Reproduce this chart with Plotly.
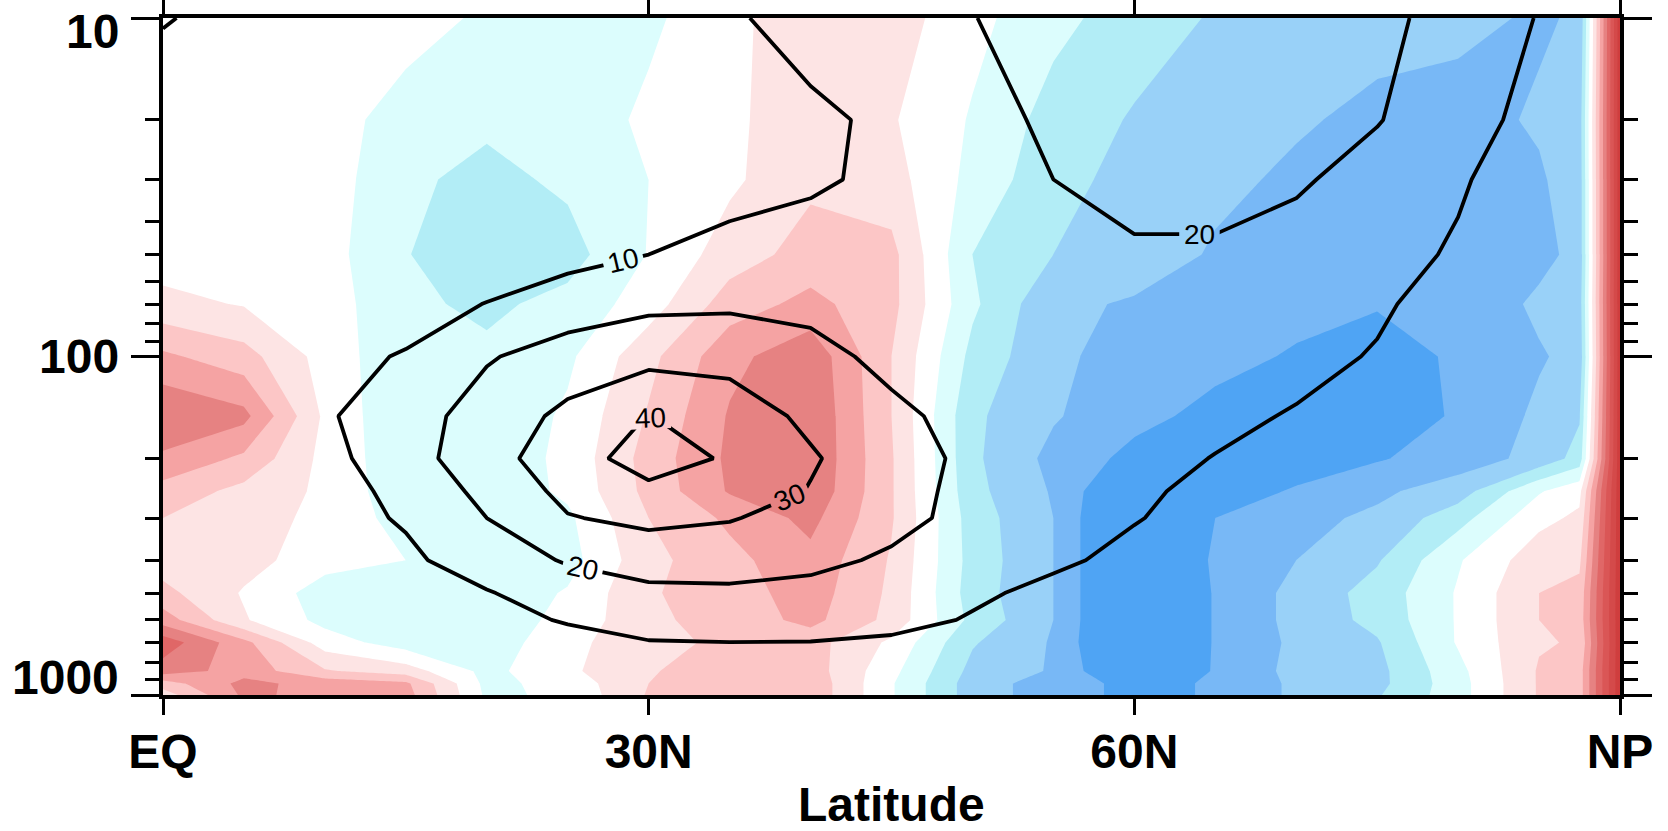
import math
import plotly.graph_objects as go

# ---------------- data ----------------
pressure_levels = [10, 20, 30, 50, 70, 100, 150, 200, 250, 300, 400, 500, 600, 700, 850, 925, 1000]

shade_lats = [0, 5, 10, 15, 20, 25, 30, 35, 40, 45, 50, 55, 60, 65, 70, 75, 80, 85, 87.5, 90]
# shaded anomaly field (rows = pressure_levels)
shade_values = [
    [0, 0, 0, 0, -0.7, -1.1, -0.7, 0.2, 1.2, 1.0, -0.2, -1.2, -2.0, -2.6, -3.0, -3.2, -3.3, -3.6, -3.4, 8.2],   # 10
    [0, 0, 0, -1.0, -1.3, -1.1, -0.3, 0.3, 1.1, 0.6, -0.6, -1.9, -2.6, -3.1, -3.4, -3.7, -3.8, -3.4, -3.0, 8.2],  # 20
    [0, 0, 0, -1.3, -1.8, -1.3, -0.5, 0.3, 1.3, 0.9, -0.8, -2.2, -2.8, -3.3, -3.65, -3.9, -4.0, -3.6, -3.1, 8.2],  # 30
    [0, 0, -0.1, -1.45, -2.2, -1.9, -0.45, 1.0, 1.9, 1.8, -1.5, -2.5, -3.0, -3.6, -3.9, -4.1, -4.2, -3.8, -3.2, 8.2],  # 50
    [0.8, 0.43, 0.0, -1.3, -1.7, -1.2, 0.0, 2.0, 2.8, 1.8, -1.3, -3.3, -3.6, -4.0, -4.2, -4.45, -4.3, -3.3, -3.0, 8.2],  # 70
    [2.7, 1.9, 0.1, -1.3, -1.3, -0.7, 1.2, 3.2, 4.2, 1.5, -1.8, -3.3, -3.9, -4.2, -4.6, -4.8, -4.4, -3.6, -3.2, 8.2],  # 100
    [4.4, 3.8, 0.3, -1.4, -1.3, -0.33, 1.6, 3.6, 4.4, 1.5, -2.3, -3.4, -4.2, -4.8, -5.0, -5.0, -4.4, -3.3, -2.6, 8.2],  # 150
    [3.3, 2.3, 0.2, -1.2, -1.3, -0.2, 1.9, 3.7, 4.4, 1.6, -2.3, -3.8, -4.8, -5.1, -5.0, -4.6, -4.0, -3.2, -2.1, 8.2],  # 200
    [2.1, 1.2, 0.3, -1.2, -1.2, -0.3, 1.8, 3.6, 4.3, 1.6, -2.2, -3.6, -6.0, -5.0, -4.4, -3.7, -3.0, -0.6, 0.2, 8.2],  # 250
    [1.5, 1.0, 0.2, -0.9, -1.2, -0.7, 1.5, 2.7, 3.8, 1.6, -2.0, -3.5, -6.5, -4.5, -3.8, -3.3, -1.9, 0.2, 0.7, 8.2],  # 300
    [1.0, 0.9, -0.1, -0.5, -1.0, -0.9, 1.2, 2.2, 3.2, 1.4, -1.9, -3.5, -6.5, -4.3, -3.5, -2.6, -0.6, 1.1, 1.3, 8.2],  # 400
    [1.8, 0.4, -1.0, -1.2, -1.2, -0.4, 1.4, 2.0, 3.0, 1.3, -2.0, -3.5, -6.5, -4.4, -3.2, -2.1, -0.4, 1.5, 1.8, 8.2],  # 500
    [3.0, 0.6, -0.8, -1.2, -1.1, -0.2, 1.3, 1.9, 2.8, 1.2, -1.8, -3.5, -6.5, -4.4, -3.2, -2.2, -0.4, 1.5, 1.9, 8.2],  # 600
    [5.1, 2.8, 0.0, -1.0, -1.1, 0.2, 1.2, 1.7, 1.9, 0.3, -2.4, -3.6, -6.5, -4.4, -3.3, -2.6, -0.4, 1.4, 1.6, 8.2],  # 700
    [4.0, 3.1, 1.6, 1.0, -0.8, 0.3, 1.4, 2.1, 2.0, -0.2, -2.8, -3.6, -6.0, -4.4, -3.2, -2.8, -0.8, 1.6, 2.0, 8.2],  # 850
    [2.0, 3.8, 3.1, 2.7, -0.8, -0.1, 1.5, 2.3, 2.2, -0.4, -3.0, -4.0, -4.8, -4.4, -3.3, -2.8, -0.9, 1.6, 2.0, 8.2],  # 925
    [1.0, 3.7, 3.2, 2.9, -0.7, -0.3, 1.6, 2.2, 2.2, -0.4, -3.0, -4.0, -4.8, -4.4, -3.3, -2.6, -0.9, 1.6, 2.0, 8.2],  # 1000
]

wind_lats = [0, 5, 10, 15, 20, 25, 30, 35, 40, 45, 50, 55, 60, 65, 70, 75, 80, 85, 90]
# zonal wind climatology (rows = pressure_levels)
wind_values = [
    [10.8, 6, 3, 2, 2, 3, 5, 9, 13, 16, 19.8, 23, 25, 26, 25, 22, 17, 9.5, 2],        # 10
    [3, 3, 2, 2, 2, 3, 5, 7, 8.5, 11.5, 16, 22, 26, 27, 25, 20.4, 15, 6, 1],          # 20
    [2, 2, 2, 2, 3, 4, 5.5, 7.5, 9, 11.5, 15, 20, 24, 24, 21, 17, 11, 5, 1],          # 30
    [3, 3, 3, 4, 5.5, 7.5, 10, 12, 13, 14, 15.5, 17.5, 18.5, 18.5, 17, 13, 9, 4, 1],  # 50
    [4, 4, 5, 7, 10.2, 14, 18, 18.5, 17.5, 16, 15, 15, 15, 14.5, 13.5, 11, 7, 3, 1],  # 70
    [5, 6, 8, 10.5, 19, 25, 27, 27, 23, 17.5, 15, 14, 13.5, 13, 12, 9.5, 6, 3, 1],    # 100
    [5, 7, 9, 15, 25, 32, 40.3, 35, 28, 22, 17, 15, 13, 11.5, 9.5, 7, 5, 3, 1],       # 150
    [5, 6, 7, 16, 26, 36, 44, 39, 31, 24, 18, 15, 12, 9.8, 8, 6, 4, 2.5, 1],          # 200
    [5, 6, 7, 12, 23, 32.5, 38, 36, 29.5, 24, 17, 13.5, 11, 8.5, 6.5, 5, 3.5, 2.5, 1],  # 250
    [5, 6, 7, 10.8, 20, 29.5, 32, 30.5, 27, 23, 17, 13, 10.3, 8, 6, 4.5, 3.5, 2.5, 1],  # 300
    [4.5, 5.5, 6.5, 8.5, 14, 21, 25, 25, 22.5, 18.5, 14, 11, 8.5, 6.5, 5, 4, 3, 2, 1],  # 400
    [4, 5, 6, 7.5, 9.5, 14, 17.5, 18, 17, 14, 11, 8.5, 6.5, 5, 4, 3.5, 2.5, 2, 1],    # 500
    [3.5, 4.5, 5, 6, 8, 10.5, 13.5, 14.5, 14, 12, 9.5, 7, 5.5, 4.5, 3.5, 3, 2.5, 2, 1],  # 600
    [3, 3.5, 4, 5, 6, 8, 9.6, 9.9, 9.8, 9, 7, 5.5, 4.5, 3.5, 3, 2.5, 2, 1.5, 1],      # 700
    [2.5, 3, 3.5, 4, 5, 6, 7, 7, 6.5, 6, 5, 4, 3.5, 3, 2.5, 2, 1.5, 1, 0.5],          # 850
    [2, 2.5, 3, 3, 4, 5, 6, 6, 5.5, 5, 4, 3, 2.5, 2, 1.5, 1.5, 1, 0.5, 0.5],          # 925
    [1.5, 2, 2.5, 2.5, 3, 4, 5, 5, 4.5, 4, 3, 2.5, 2, 1.5, 1, 1, 0.5, 0.5, 0.5],      # 1000
]

band_colors = ["#4fa4f4", "#78b8f6", "#99d1f8", "#b2edf6", "#dcfdfd", "#ffffff",
               "#fde4e4", "#fcc6c6", "#f5a3a3", "#e68282", "#e06767", "#da5656",
               "#d44a4a", "#cf3e3e"]

x_tick_vals = [0, 30, 60, 90]
x_tick_text = ["EQ", "30N", "60N", "NP"]
x_title = "Latitude"
y_tick_vals = [10, 100, 1000]
y_tick_text = ["10", "100", "1000"]
y_minor_vals = [20, 30, 40, 50, 60, 70, 80, 90, 200, 300, 400, 500, 600, 700, 800, 900]
y_label_shift = [-13, 0, 18]   # vertical nudge of the pressure labels (px)

# ---------------- figure ----------------
n = len(band_colors) - 1
fill_scale = [[i / n, c] for i, c in enumerate(band_colors)]

fig = go.Figure()
fig.add_trace(go.Contour(
    x=shade_lats, y=pressure_levels, z=shade_values,
    autocontour=False,
    contours=dict(start=-4.5, end=7.5, size=1, coloring="fill", showlines=False),
    colorscale=fill_scale, showscale=False,
    line=dict(width=0, smoothing=0),
    hoverinfo="skip",
))
fig.add_trace(go.Contour(
    x=wind_lats, y=pressure_levels, z=wind_values,
    autocontour=False,
    contours=dict(start=10, end=40, size=10, coloring="lines", showlabels=True,
                  labelfont=dict(size=28, color="black", family="Liberation Sans")),
    colorscale=[[0, "black"], [1, "black"]], showscale=False,
    line=dict(width=3.8, smoothing=0),
    hoverinfo="skip",
))

axis_font = dict(family="Liberation Sans", size=48, color="black", weight="bold")

annotations = []
for v, t, s in zip(y_tick_vals, y_tick_text, y_label_shift):
    annotations.append(dict(
        x=0, xref="paper", xanchor="right", xshift=-43,
        y=math.log10(v), yref="y", yanchor="middle", yshift=s,
        text=t, showarrow=False, font=axis_font, borderpad=0,
    ))
annotations.append(dict(
    x=0.5, xref="paper", xanchor="center", y=0, yref="paper", yanchor="top",
    yshift=-82, text=x_title, showarrow=False, borderpad=0,
    font=dict(family="Liberation Sans", size=48, color="black", weight="bold"),
))

fig.update_layout(
    width=1668, height=831,
    margin=dict(l=163, r=48, t=18, b=136, autoexpand=False),
    paper_bgcolor="white", plot_bgcolor="white",
    showlegend=False,
    annotations=annotations,
    xaxis=dict(
        range=[0, 90], tickmode="array", tickvals=x_tick_vals, ticktext=x_tick_text,
        ticks="outside", ticklen=16, tickwidth=3, tickcolor="black",
        showline=True, linewidth=3.5, linecolor="black", mirror="ticks",
        showgrid=False, zeroline=False, tickfont=axis_font, ticklabelstandoff=-4,
        automargin=False,
    ),
    yaxis=dict(
        type="log", range=[3, 1], tickmode="array", tickvals=y_tick_vals,
        ticks="outside", ticklen=28, tickwidth=3, tickcolor="black",
        showticklabels=False,
        minor=dict(tickmode="array", tickvals=y_minor_vals, ticks="outside", ticklen=14,
                   tickwidth=3, tickcolor="black", showgrid=False),
        showline=True, linewidth=3.5, linecolor="black", mirror="ticks",
        showgrid=False, zeroline=False, automargin=False,
    ),
)

fig.write_html("out.html", config={"displayModeBar": False},
               post_script="document.body.style.margin='0px';document.body.style.overflow='hidden';")
